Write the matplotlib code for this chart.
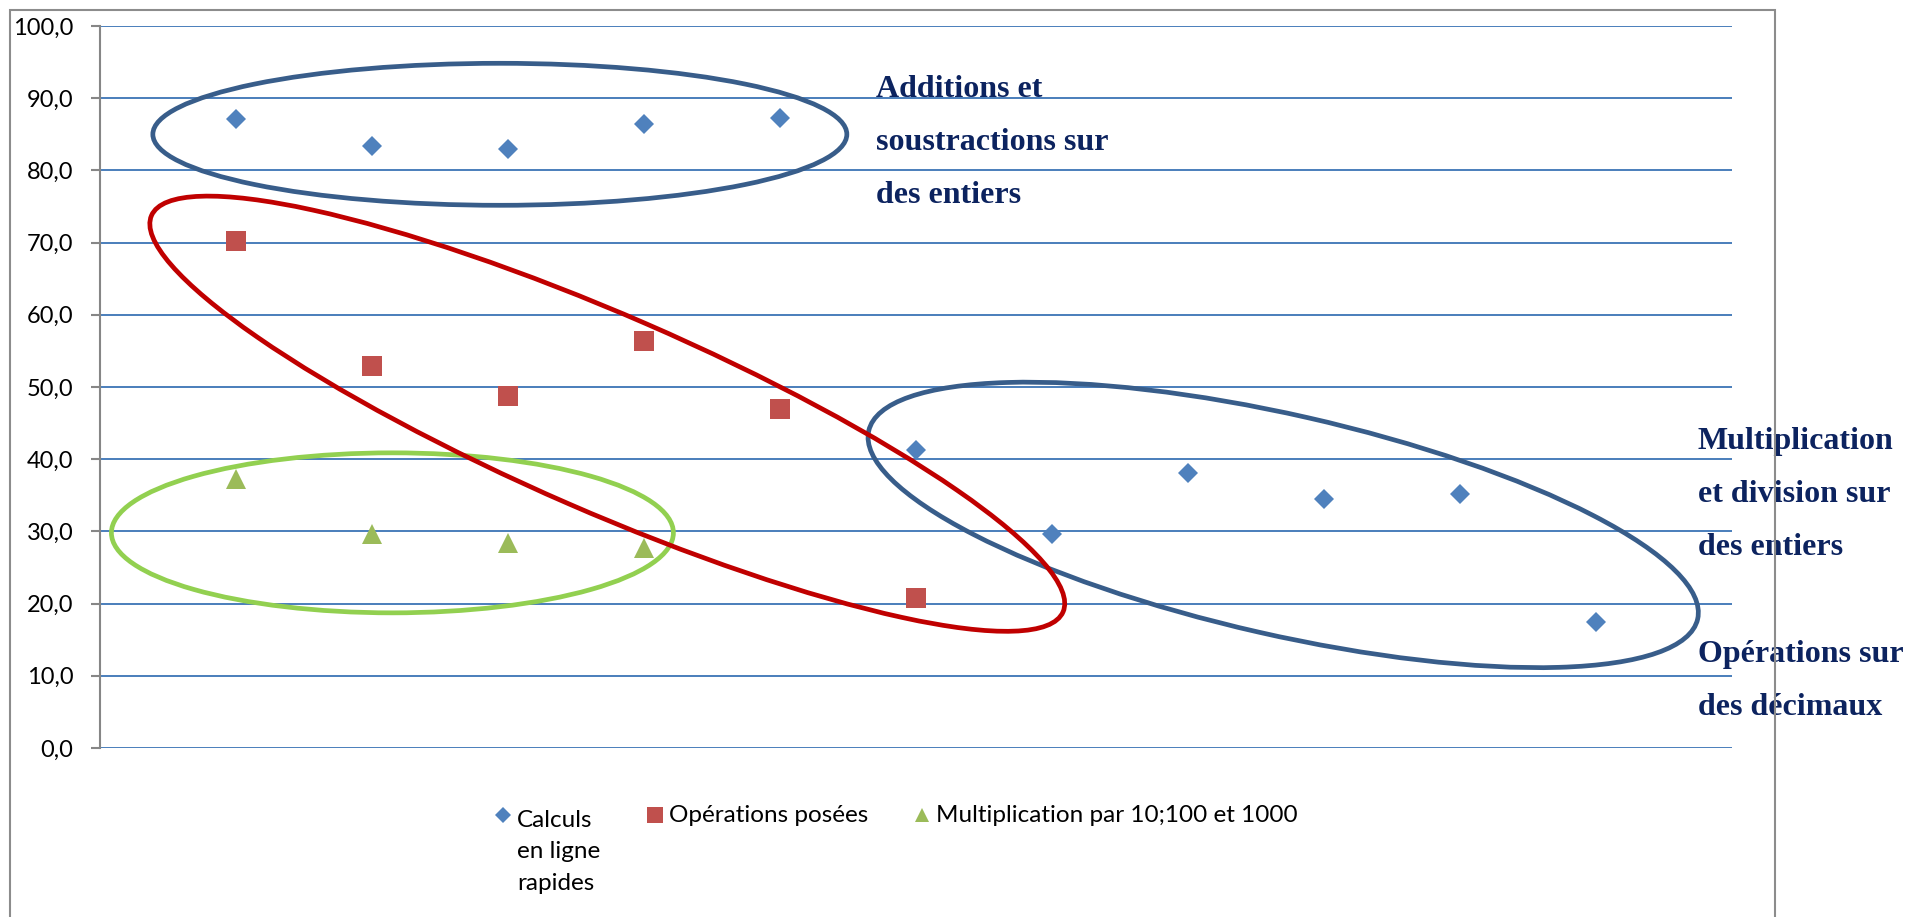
import matplotlib.pyplot as plt
from matplotlib.patches import Ellipse, Rectangle
from matplotlib.lines import Line2D
from matplotlib.ticker import FuncFormatter, MultipleLocator
from matplotlib.transforms import IdentityTransform

# résultats par rang d'exercice (en %)
rangs = list(range(1, 12))
calculs_en_ligne = [87.1, 83.4, 82.9, 86.4, 87.2, 41.3, 29.7, 38.1, 34.5, 35.2, 17.4]
operations_posees = [70.2, 52.9, 48.7, 56.4, 47.0, 20.8]
multiplication_10 = [37.3, 29.7, 28.4, 27.7]

noms_series = ["Calculs\nen ligne\nrapides", "Opérations posées",
               "Multiplication par 10;100 et 1000"]

# regroupements entourés : centre (rang, valeur), demi-axes en px, angle, couleur
groupes = [
    ((2.94, 85.0), 347, 71, 0.0, '#385D8A'),
    ((8.70, 30.9), 425, 110, -12.8, '#385D8A'),
    ((2.15, 29.8), 281, 80, 0.0, '#92D050'),
    ((3.73, 46.3), 497, 98, -23.5, '#C00000'),
]

# commentaires : texte, x en px, ligne de base de la dernière ligne en px
commentaires = [
    ("Additions et\nsoustractions sur\ndes entiers", 876, 203),
    ("Multiplication\net division sur\ndes entiers", 1698, 555),
    ("Opérations sur\ndes décimaux", 1698, 715),
]

W, H = 1908, 917
bleu, rouge, vert = '#4F81BD', '#C0504D', '#9BBB59'
marine = '#0C235F'

fig = plt.figure(figsize=(W / 100, H / 100), dpi=100)
ax = fig.add_axes([100 / W, 1 - 748 / H, 1632 / W, 722 / H])

ax.set_xlim(0, 12)
ax.set_ylim(0, 100)
ax.set_xticks([])
ax.yaxis.set_major_locator(MultipleLocator(10))
ax.yaxis.set_major_formatter(FuncFormatter(lambda v, p: f"{v:.1f}".replace('.', ',')))
ax.grid(axis='y', color='#4A7EBB', lw=1.4)
ax.set_axisbelow(True)
for side in ['top', 'right', 'bottom']:
    ax.spines[side].set_visible(False)
ax.spines['left'].set_color('#868686')
ax.spines['left'].set_linewidth(1.5)
ax.tick_params(axis='y', length=6.5, width=1.5, color='#868686', pad=12.5,
               labelsize=17)
for lab in ax.get_yticklabels():
    lab.set_fontfamily('Lato')

ax.plot(rangs, calculs_en_ligne, ls='none', marker='D', ms=10.3, color=bleu,
        mew=0, clip_on=False, zorder=3)
ax.plot(rangs[:len(operations_posees)], operations_posees, ls='none', marker='s',
        ms=14.5, color=rouge, mew=0, clip_on=False, zorder=3)
ax.plot(rangs[:len(multiplication_10)], multiplication_10, ls='none', marker='^',
        ms=14, color=vert, mew=0, clip_on=False, zorder=3)

# ellipses tracées en pixels autour de leur centre
for (cx, cy), a, b, ang, coul in groupes:
    centre = ax.transData.transform((cx, cy))
    ax.add_patch(Ellipse(centre, 2 * a, 2 * b, angle=ang, transform=IdentityTransform(),
                         fill=False, ec=coul, lw=3.4, clip_on=False, zorder=4))

# légende sous le graphique (marqueur aligné sur la première ligne)
marqueurs = [('D', 10.3, bleu, 503), ('s', 14.5, rouge, 655), ('^', 14, vert, 922)]
interligne = 34
for (m, ms, coul, xp), nom in zip(marqueurs, noms_series):
    fig.add_artist(Line2D([xp / W], [1 - 815 / H], marker=m, ms=ms * 0.75, color=coul,
                          mew=0, ls='none', transform=fig.transFigure))
    derniere = 822 + interligne * nom.count('\n')
    fig.text((xp + 14) / W, 1 - derniere / H, nom, va='baseline', ha='left',
             family='Lato', fontsize=17.5, linespacing=1.62)

for texte, xp, yp in commentaires:
    fig.text(xp / W, 1 - yp / H, texte, va='baseline', ha='left', color=marine,
             family='Liberation Serif', fontweight='bold', fontsize=23,
             linespacing=2.1, zorder=1)

fig.add_artist(Rectangle((10 / W, -0.05), 1765 / W, 1.05 - 10 / H,
                         transform=fig.transFigure, fill=False, ec='#8C8C8C',
                         lw=1.5, zorder=10))

fig.savefig('out.png', dpi=100)
